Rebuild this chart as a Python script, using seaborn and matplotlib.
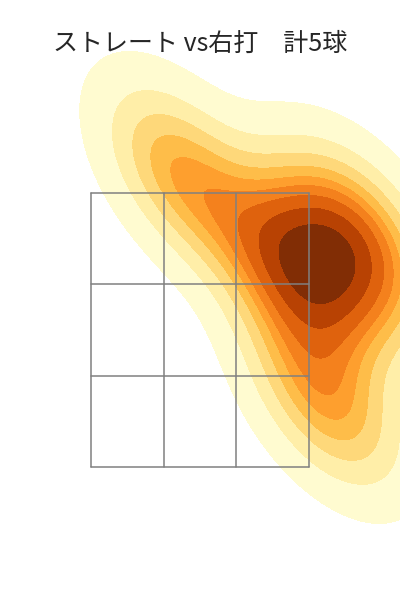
import numpy as np
import pandas as pd
import matplotlib
matplotlib.use("Agg")
import matplotlib.pyplot as plt
import seaborn as sns

# pitch locations (5 straight balls vs right-handed batters)
plate_x = [0.83, 1.13, -0.16, 1.15, 1.49]
plate_z = [2.87, 3.03, 3.63, 1.99, 3.19]

title = "ストレート vs右打\u3000計5球"

# strike zone edges
zone_x = [-1.0, -1/3, 1/3, 1.0]
zone_z = [1.5, 2.1667, 2.8333, 3.5]

sns.set_style("white")
plt.rcParams['font.family'] = ['Noto Sans CJK JP', 'DejaVu Sans']

df = pd.DataFrame({"x": plate_x, "z": plate_z})

fig = plt.figure(figsize=(4, 6), dpi=100)
ax = fig.add_axes([0, 0, 1, 1])

sns.kdeplot(data=df, x="x", y="z", fill=True, cmap="YlOrBr", levels=10,
            thresh=0.05, ax=ax)

for xv in zone_x:
    ax.plot([xv, xv], [zone_z[0], zone_z[-1]], color="gray", lw=1.1)
for zv in zone_z:
    ax.plot([zone_x[0], zone_x[-1]], [zv, zv], color="gray", lw=1.1)

ax.set_xlim(-1.835, 1.835)
ax.set_ylim(0.529, 4.909)
ax.axis("off")

fig.text(0.5, 1 - 44/600, title, ha="center", va="center", fontsize=18)

fig.savefig("out.png", dpi=100)
